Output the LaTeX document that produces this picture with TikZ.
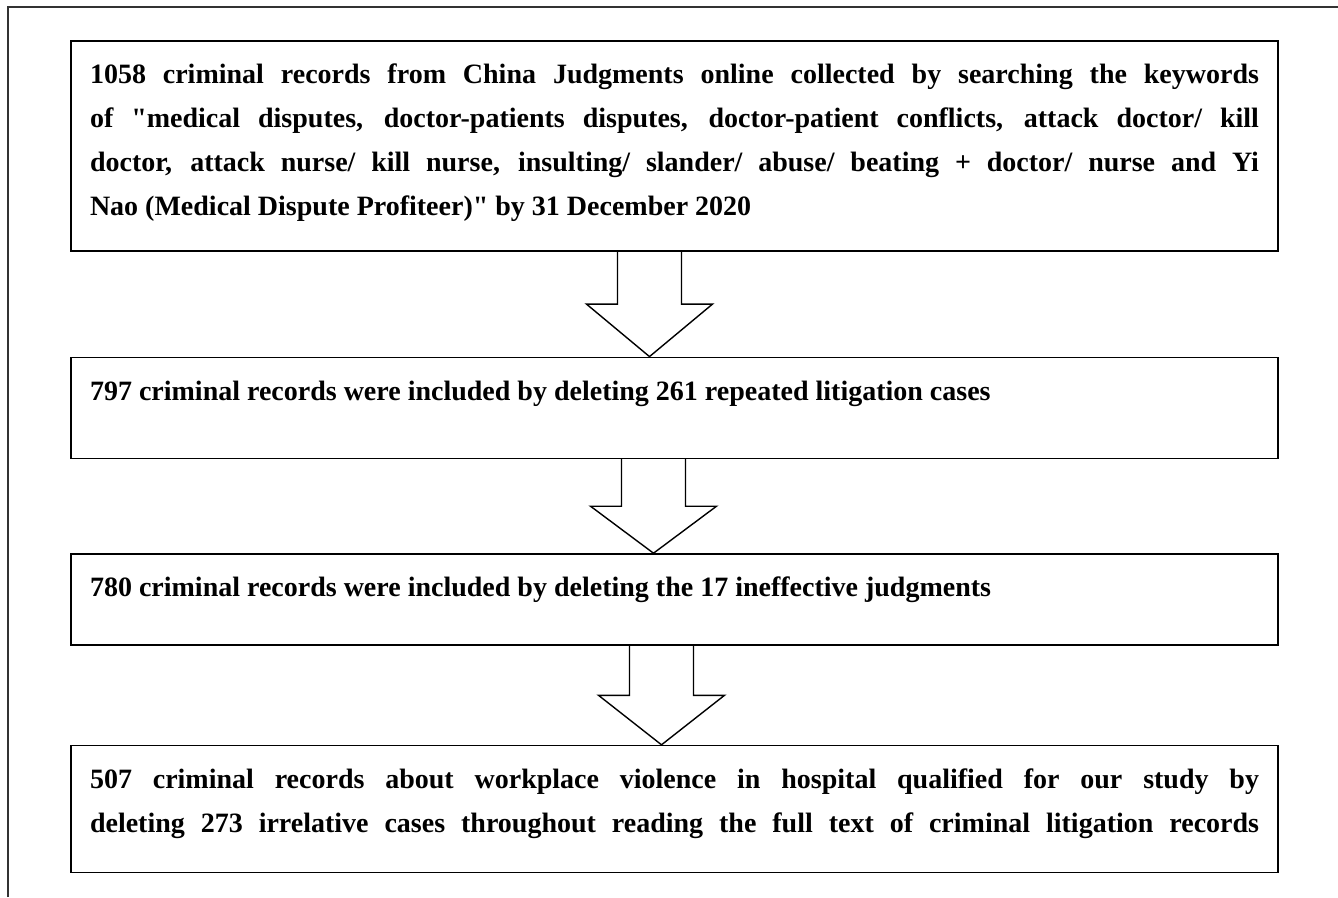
\documentclass[tikz,border=0pt]{standalone}
\usepackage{fontspec}
\setmainfont{Liberation Serif}
\usetikzlibrary{positioning, calc}

\begin{document}
\begin{tikzpicture}[x=1pt, y=-1pt, node distance=100pt]
		% 样式
		\tikzstyle{stage} = [rectangle, draw, line width=1.6pt, anchor=north, inner xsep=19pt, inner ysep=12pt, font=\fontsize{28}{44}\selectfont\bfseries]
		\tikzstyle{bigarrow} = [line width=1.4pt, line join=miter]
		\tikzstyle{frame} = [line width=1.2pt, draw=black!80]
		
		\useasboundingbox (0,0) rectangle (1338,897);
		\draw [frame] (8,897) -- (8,7) -- (1338,7);
		
		% 方框
		\node [stage] (records) at (674.5,40) {\parbox[t][186pt][t]{1169pt}{\strut 1058 criminal records from China Judgments online collected by searching the keywords\linebreak of \textquotedbl medical disputes, doctor-patients disputes, doctor-patient conflicts, attack doctor/ kill\linebreak doctor, attack nurse/ kill nurse, insulting/ slander/ abuse/ beating + doctor/ nurse and Yi\linebreak Nao (Medical Dispute Profiteer)\textquotedbl{} by 31 December 2020}};
		\node [stage, below=105pt of records] (unique) {\parbox[t][77pt][t]{1169pt}{\strut 797 criminal records were included by deleting 261 repeated litigation cases}};
		\node [stage, below=94pt of unique] (effective) {\parbox[t][67pt][t]{1169pt}{\strut 780 criminal records were included by deleting the 17 ineffective judgments}};
		\node [stage, below=99pt of effective] (qualified) {\parbox[t][103pt][t]{1169pt}{\parfillskip=0pt\strut 507 criminal records about workplace violence in hospital qualified for our study by\linebreak deleting 273 irrelative cases throughout reading the full text of criminal litigation records}};
		
		% 箭头
		\foreach \a/\b/\s in {records/unique/-25, unique/effective/-21, effective/qualified/-13}
		\draw [bigarrow] ($(\a.south)+(\s-32,0)$) -- ($(\a.south)!.5!(\b.north)+(\s-32,0)$) -- ($(\a.south)!.5!(\b.north)+(\s-63,0)$) -- ($(\b.north)+(\s,0)$) -- ($(\a.south)!.5!(\b.north)+(\s+63,0)$) -- ($(\a.south)!.5!(\b.north)+(\s+32,0)$) -- ($(\a.south)+(\s+32,0)$);
\end{tikzpicture}
\end{document}
